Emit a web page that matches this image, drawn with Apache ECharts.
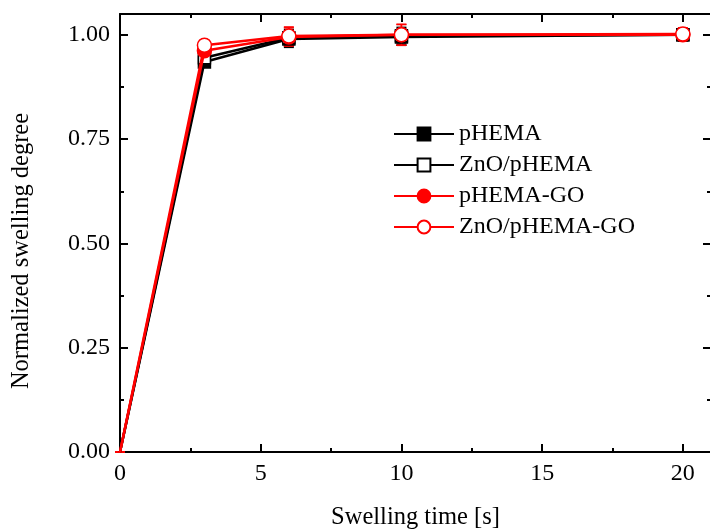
<!DOCTYPE html>
<html><head><meta charset="utf-8">
<script src="https://cdn.jsdelivr.net/npm/echarts@6/dist/echarts.min.js"></script>
<style>html,body{margin:0;padding:0;background:#fff}#c{width:710px;height:531px}</style>
</head><body><div id="c"></div>
<script>
const times = [0, 3, 6, 10, 20];
const seriesNames = ['pHEMA', 'ZnO/pHEMA', 'pHEMA-GO', 'ZnO/pHEMA-GO'];
const pHEMA = [0, 0.935, 0.99, 0.995, 1.0];
const ZnO_pHEMA = [0, 0.945, 0.993, 0.998, 1.0];
const pHEMA_GO = [0, 0.962, 0.995, 1.0, 1.0];
const ZnO_pHEMA_GO = [0, 0.975, 0.997, 1.0, 1.002];
const err_pHEMA = [0, 0.01, 0.02, 0.02, 0.012];
const err_ZnO_pHEMA = [0, 0.01, 0.02, 0.02, 0.012];
const err_pHEMA_GO = [0, 0.012, 0.022, 0.025, 0.015];
const err_ZnO_pHEMA_GO = [0, 0.012, 0.022, 0.025, 0.015];
const xTicks = [0, 5, 10, 15, 20];
const yTicks = [0, 0.25, 0.5, 0.75, 1.0];

const FONT = 'Liberation Serif';
const values = [pHEMA, ZnO_pHEMA, pHEMA_GO, ZnO_pHEMA_GO];
const errs = [err_pHEMA, err_ZnO_pHEMA, err_pHEMA_GO, err_ZnO_pHEMA_GO];
const colors = ['#000000', '#000000', '#ff0000', '#ff0000'];
const symbols = ['rect', 'rect', 'circle', 'circle'];
const symSizes = [12, 12, 14, 14];
const fills = ['#000000', '#ffffff', '#ff0000', '#ffffff'];

const chart = echarts.init(document.getElementById('c'), null, {renderer: 'canvas'});
const axisCommon = {
  axisLine: {show: true, onZero: false, lineStyle: {color: '#000', width: 2}},
  axisTick: {show: true, inside: true, length: 8, lineStyle: {color: '#000', width: 2}},
  minorTick: {show: true, splitNumber: 2, length: 4, lineStyle: {color: '#000', width: 2}},
  splitLine: {show: false}
};
const series = [];
values.forEach((v, i) => {
  series.push({
    type: 'custom',
    name: seriesNames[i] + '_err',
    xAxisIndex: 0, yAxisIndex: 0,
    data: times.map((t, k) => [t, v[k] - errs[i][k], v[k] + errs[i][k]]),
    z: 2 + i,
    silent: true,
    renderItem: function (params, api) {
      const lo = api.coord([api.value(0), api.value(1)]);
      const hi = api.coord([api.value(0), api.value(2)]);
      const w = 5;
      const st = {stroke: colors[i], lineWidth: 1.5};
      return {type: 'group', children: [
        {type: 'line', shape: {x1: lo[0], y1: lo[1], x2: hi[0], y2: hi[1]}, style: st},
        {type: 'line', shape: {x1: lo[0]-w, y1: lo[1], x2: lo[0]+w, y2: lo[1]}, style: st},
        {type: 'line', shape: {x1: hi[0]-w, y1: hi[1], x2: hi[0]+w, y2: hi[1]}, style: st}
      ]};
    }
  });
});
values.forEach((v, i) => {
  series.push({
    type: 'line',
    name: seriesNames[i],
    xAxisIndex: 0, yAxisIndex: 0,
    data: times.map((t, k) => (t === 0 ? {value: [t, v[k]], symbol: 'none'} : [t, v[k]])),
    symbol: symbols[i],
    symbolSize: symSizes[i],
    showAllSymbol: true,
    z: 10 + i,
    lineStyle: {color: colors[i], width: 2.5},
    itemStyle: {color: fills[i], borderColor: colors[i], borderWidth: 1.5},
    emphasis: {disabled: true}
  });
});

chart.setOption({
  animation: false,
  backgroundColor: '#fff',
  grid: {left: 120, top: 14, right: -1, bottom: 79, containLabel: false, outerBoundsMode: 'none'},
  legend: {
    data: seriesNames,
    orient: 'vertical', left: 393, top: 122, padding: 0,
    itemWidth: 60, itemHeight: 16, itemGap: 7,
    textStyle: {fontFamily: FONT, fontSize: 24, color: '#000', padding: [0, 0, 0, 0]},
    selectedMode: false
  },
  xAxis: [
    Object.assign({}, axisCommon, {
      type: 'value', min: 0, max: 21, interval: 5, position: 'bottom',
      name: 'Swelling time [s]', nameLocation: 'middle', nameGap: 53,
      nameTextStyle: {fontFamily: FONT, fontSize: 24.5, color: '#000'},
      axisLabel: {fontFamily: FONT, fontSize: 24, color: '#000', margin: 10, showMaxLabel: false}
    }),
    Object.assign({}, axisCommon, {
      type: 'value', min: 0, max: 21, interval: 5, position: 'top',
      axisLabel: {show: false}
    })
  ],
  yAxis: [
    Object.assign({}, axisCommon, {
      type: 'value', min: 0, max: 1.05, interval: 0.25, position: 'left',
      name: 'Normalized swelling degree', nameLocation: 'middle', nameGap: 86,
      nameTextStyle: {fontFamily: FONT, fontSize: 24.5, color: '#000', padding: [0, 36, 0, 0]},
      axisLabel: {fontFamily: FONT, fontSize: 24, color: '#000', margin: 10, showMaxLabel: false,
        formatter: v => v.toFixed(2)}
    }),
    Object.assign({}, axisCommon, {
      type: 'value', min: 0, max: 1.05, interval: 0.25, position: 'right',
      axisLabel: {show: false}
    })
  ],
  series: series
});
</script></body></html>
